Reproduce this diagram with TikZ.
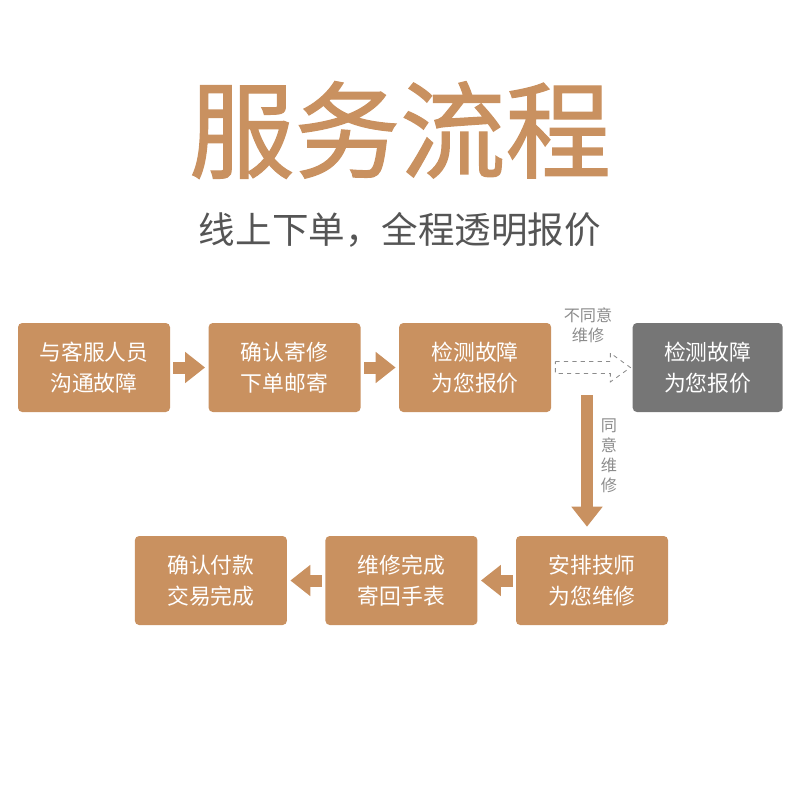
\documentclass[tikz,border=0pt]{standalone}
\usepackage{fontspec}
\setmainfont{Noto Sans CJK SC}
\newfontfamily\titlefont[FakeBold=1.2]{Noto Sans CJK SC}
\usetikzlibrary{positioning,arrows.meta,calc}
\definecolor{TanBox}{RGB}{201,145,96}
\definecolor{GreyBox}{RGB}{118,118,118}
\definecolor{SubText}{RGB}{85,85,85}
\definecolor{NoteText}{RGB}{140,140,140}

\begin{document}
\begin{tikzpicture}[
    stepbox/.style={rectangle, rounded corners=3pt, fill=TanBox,
        minimum width=3.8cm, minimum height=2.225cm, inner sep=0pt,
        font=\fontsize{15.5}{22}\selectfont, align=center, text=white},
    greybox/.style={stepbox, fill=GreyBox, minimum width=3.75cm},
    blk/.style={-{Triangle[length=0.5cm, width=0.75cm]}, line width=0.3cm, TanBox,
        shorten <=0.08cm, shorten >=0.08cm},
    note/.style={font=\fontsize{11.5}{14.2}\selectfont, text=NoteText, align=center},
]
\useasboundingbox (0,0) rectangle (20,-20);

% Title
\node[font=\titlefont\fontsize{75}{80}\selectfont, text=TanBox] (title) at (10,-3.25) {服务流程};
\node[font=\fontsize{26}{30}\selectfont, text=SubText] (subtitle) at (10,-5.75) {线上下单，全程透明报价};

% First row
\node[stepbox] (b1) at (2.35,-9.1875) {与客服人员\\沟通故障};
\node[stepbox, right=0.95cm of b1] (b2) {确认寄修\\下单邮寄};
\node[stepbox, right=0.95cm of b2] (b3) {检测故障\\为您报价};
\node[greybox, right=2.025cm of b3] (b4) {检测故障\\为您报价};

% Second row
\node[stepbox] (b7) at (14.8,-14.5125) {安排技师\\为您维修};
\node[stepbox, left=0.95cm of b7] (b6) {维修完成\\寄回手表};
\node[stepbox, left=0.95cm of b6] (b5) {确认付款\\交易完成};

\draw[blk] (b1) -- (b2);
\draw[blk] (b2) -- (b3);
\draw[blk] (b7) -- (b6);
\draw[blk] (b6) -- (b5);

% Refused: dashed hollow arrow
\coordinate (dtail) at ($(b3.east)+(0.1,0)$);
\coordinate (dtip) at ($(b4.west)+(-0.05,0)$);
\draw[dashed, NoteText, semithick] ($(dtail)+(0,0.15)$) -- ($(dtip)+(-0.5,0.15)$)
    -- ($(dtip)+(-0.5,0.36)$) -- (dtip) -- ($(dtip)+(-0.5,-0.36)$)
    -- ($(dtip)+(-0.5,-0.15)$) -- ($(dtail)+(0,-0.15)$) -- cycle;
\node[note] (nolabel) at (14.7,-8.125) {不同意\\维修};

% Agreed: down to the repair step
\coordinate (vtop) at (14.675,-9.875);
\draw[blk, shorten <=0pt, shorten >=0.225cm] (vtop) -- (vtop |- b7.north);
\node[note] (yeslabel) at (15.225,-11.4) {同\\意\\维\\修};
\end{tikzpicture}
\end{document}
